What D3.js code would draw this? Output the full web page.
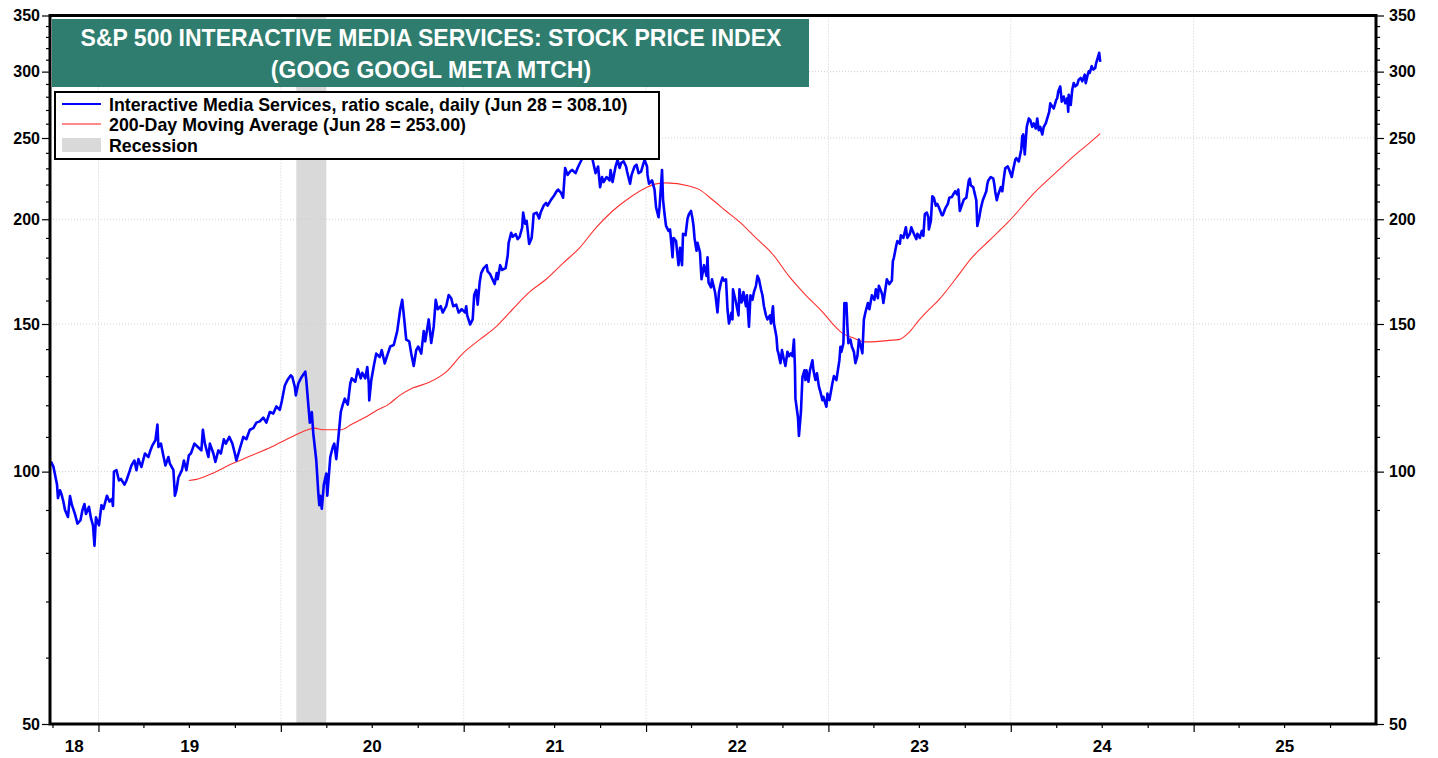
<!DOCTYPE html>
<html>
<head>
  <meta charset="utf-8">
  <title>S&amp;P 500 Interactive Media Services</title>
  <script src="https://d3js.org/d3.v7.min.js"></script>
  <style>
    body { margin: 0; background: #fff; }
    text { font-family: Arial, "Liberation Sans", sans-serif; font-weight: bold; }
  </style>
</head>
<body>
  <div id="chart"></div>
  <script>

    // Index (date, value)
    var priceData = [
      ["2018-09-28",102.8],["2018-10-03",101.3],["2018-10-10",96.5],["2018-10-12",93.0],["2018-10-16",95.0],
      ["2018-10-19",94.0],["2018-10-23",92.0],["2018-10-26",90.0],["2018-11-01",88.3],["2018-11-05",93.5],
      ["2018-11-09",91.2],["2018-11-15",89.0],["2018-11-20",86.7],["2018-11-26",87.5],["2018-11-30",90.0],
      ["2018-12-04",91.5],["2018-12-07",89.0],["2018-12-13",90.8],["2018-12-17",88.0],["2018-12-21",86.3],
      ["2018-12-24",81.6],["2018-12-27",88.2],["2019-01-02",86.3],["2019-01-07",91.2],["2019-01-11",90.3],
      ["2019-01-18",93.6],["2019-01-23",92.1],["2019-01-28",92.8],["2019-01-30",91.0],["2019-02-01",100.0],
      ["2019-02-06",100.4],["2019-02-11",97.6],["2019-02-15",98.0],["2019-02-22",96.5],["2019-02-26",97.6],
      ["2019-03-05",100.4],["2019-03-08",101.7],["2019-03-14",103.1],["2019-03-18",100.4],["2019-03-22",103.5],
      ["2019-03-28",101.3],["2019-04-04",105.1],["2019-04-11",104.1],["2019-04-15",106.0],["2019-04-19",107.5],
      ["2019-04-25",109.0],["2019-04-29",113.8],["2019-05-01",107.0],["2019-05-06",108.0],["2019-05-10",105.1],
      ["2019-05-15",101.7],["2019-05-21",104.1],["2019-05-24",102.2],["2019-05-31",100.4],["2019-06-03",93.6],
      ["2019-06-06",95.0],["2019-06-10",98.4],["2019-06-17",100.4],["2019-06-21",103.1],["2019-06-26",100.4],
      ["2019-07-01",104.6],["2019-07-05",105.1],["2019-07-12",108.0],["2019-07-19",107.0],["2019-07-26",106.0],
      ["2019-07-29",112.2],["2019-08-02",108.0],["2019-08-09",104.1],["2019-08-12",108.0],["2019-08-19",105.1],
      ["2019-08-23",102.7],["2019-08-29",106.0],["2019-09-03",105.1],["2019-09-09",109.3],["2019-09-13",108.0],
      ["2019-09-20",110.0],["2019-09-26",108.0],["2019-10-01",105.1],["2019-10-04",103.1],["2019-10-11",106.5],
      ["2019-10-18",110.0],["2019-10-24",109.3],["2019-10-31",112.2],["2019-11-07",112.7],["2019-11-13",114.4],
      ["2019-11-20",114.8],["2019-11-27",116.0],["2019-12-03",114.4],["2019-12-10",117.8],["2019-12-17",117.3],
      ["2019-12-23",119.6],["2019-12-30",118.5],["2020-01-03",121.4],["2020-01-09",126.7],["2020-01-14",128.5],
      ["2020-01-21",130.3],["2020-01-24",129.7],["2020-01-29",126.2],["2020-01-31",123.3],["2020-02-05",127.4],
      ["2020-02-10",129.2],["2020-02-14",130.3],["2020-02-19",131.6],["2020-02-21",128.5],["2020-02-25",120.2],
      ["2020-02-28",114.4],["2020-03-03",117.8],["2020-03-06",111.0],["2020-03-12",103.1],["2020-03-16",94.3],
      ["2020-03-18",91.2],["2020-03-20",93.6],["2020-03-23",90.3],["2020-03-27",96.5],["2020-04-01",99.5],
      ["2020-04-03",93.6],["2020-04-09",104.1],["2020-04-14",107.0],["2020-04-17",108.0],["2020-04-21",103.5],
      ["2020-04-27",112.7],["2020-04-30",117.8],["2020-05-04",120.2],["2020-05-08",122.2],["2020-05-14",120.2],
      ["2020-05-19",127.4],["2020-05-22",129.2],["2020-05-29",128.0],["2020-06-03",132.5],["2020-06-09",129.2],
      ["2020-06-12",131.2],["2020-06-18",129.2],["2020-06-22",133.3],["2020-06-25",127.4],["2020-06-26",121.6],
      ["2020-06-30",128.5],["2020-07-06",134.6],["2020-07-10",138.3],["2020-07-17",137.0],["2020-07-21",139.6],
      ["2020-07-27",134.6],["2020-07-31",137.0],["2020-08-07",141.0],["2020-08-14",141.6],["2020-08-21",147.1],
      ["2020-08-27",156.2],["2020-08-31",160.3],["2020-09-03",154.0],["2020-09-08",143.7],["2020-09-14",143.0],
      ["2020-09-18",138.3],["2020-09-23",133.7],["2020-09-28",139.6],["2020-10-02",141.0],["2020-10-08",138.3],
      ["2020-10-13",147.1],["2020-10-16",143.0],["2020-10-23",151.9],["2020-10-28",142.4],["2020-11-02",148.9],
      ["2020-11-06",160.3],["2020-11-10",156.2],["2020-11-16",157.5],["2020-11-20",154.8],["2020-11-27",157.5],
      ["2020-12-02",162.4],["2020-12-07",161.0],["2020-12-11",157.5],["2020-12-17",158.2],["2020-12-22",154.8],
      ["2020-12-28",156.2],["2021-01-04",154.8],["2021-01-06",157.5],["2021-01-08",153.6],["2021-01-14",149.8],
      ["2021-01-19",151.9],["2021-01-22",162.4],["2021-01-26",164.7],["2021-01-29",158.2],["2021-02-02",168.2],
      ["2021-02-05",172.5],["2021-02-10",174.9],["2021-02-16",176.3],["2021-02-18",173.3],["2021-02-23",172.0],
      ["2021-02-26",170.4],["2021-03-04",167.4],["2021-03-08",172.5],["2021-03-10",169.6],["2021-03-15",176.3],
      ["2021-03-19",174.0],["2021-03-26",174.9],["2021-03-30",180.9],["2021-04-01",187.5],["2021-04-06",192.7],
      ["2021-04-09",190.6],["2021-04-15",192.0],["2021-04-19",189.4],["2021-04-23",190.6],["2021-04-28",195.5],
      ["2021-04-30",203.7],["2021-05-04",197.6],["2021-05-07",199.1],["2021-05-12",186.9],["2021-05-17",190.0],
      ["2021-05-19",195.5],["2021-05-21",202.9],["2021-05-27",203.7],["2021-06-01",200.4],["2021-06-04",203.7],
      ["2021-06-10",207.6],["2021-06-15",209.2],["2021-06-18",207.6],["2021-06-25",211.1],["2021-06-30",213.0],
      ["2021-07-06",216.0],["2021-07-09",217.0],["2021-07-15",215.0],["2021-07-19",212.2],["2021-07-23",230.2],
      ["2021-07-28",225.9],["2021-08-02",228.0],["2021-08-06",229.0],["2021-08-13",227.0],["2021-08-17",230.2],
      ["2021-08-20",232.3],["2021-08-25",235.5],["2021-08-31",243.0],["2021-09-07",245.0],["2021-09-10",242.0],
      ["2021-09-16",235.5],["2021-09-22",227.0],["2021-09-27",231.2],["2021-10-01",218.4],["2021-10-05",224.6],
      ["2021-10-08",221.5],["2021-10-14",224.6],["2021-10-20",222.5],["2021-10-22",229.0],["2021-10-26",221.5],
      ["2021-11-01",231.2],["2021-11-05",235.5],["2021-11-09",230.2],["2021-11-12",233.4],["2021-11-17",234.5],
      ["2021-11-22",231.2],["2021-11-24",228.0],["2021-11-30",220.5],["2021-12-03",225.9],["2021-12-09",231.2],
      ["2021-12-13",232.3],["2021-12-17",227.0],["2021-12-22",228.0],["2021-12-27",233.4],["2021-12-29",235.5],
      ["2022-01-03",231.2],["2022-01-04",225.9],["2022-01-07",220.5],["2022-01-13",222.5],["2022-01-18",217.0],
      ["2022-01-21",206.7],["2022-01-26",201.1],["2022-01-28",206.7],["2022-02-02",229.0],["2022-02-04",211.1],
      ["2022-02-07",202.9],["2022-02-10",196.4],["2022-02-15",193.7],["2022-02-18",194.5],["2022-02-22",183.4],
      ["2022-02-23",180.2],["2022-02-25",190.0],["2022-03-02",188.4],["2022-03-07",176.3],["2022-03-10",184.9],
      ["2022-03-14",176.3],["2022-03-16",192.2],["2022-03-21",191.4],["2022-03-25",200.3],["2022-03-28",202.9],
      ["2022-04-01",204.6],["2022-04-04",200.3],["2022-04-06",196.4],["2022-04-08",190.0],["2022-04-12",183.4],
      ["2022-04-14",187.5],["2022-04-19",182.6],["2022-04-21",173.7],["2022-04-22",169.6],["2022-04-27",176.3],
      ["2022-05-02",171.2],["2022-05-04",180.2],["2022-05-06",168.2],["2022-05-11",165.9],["2022-05-13",169.6],
      ["2022-05-19",163.8],["2022-05-20",162.3],["2022-05-24",154.8],["2022-05-27",163.8],["2022-05-31",168.2],
      ["2022-06-03",170.4],["2022-06-06",169.0],["2022-06-10",169.6],["2022-06-13",156.2],["2022-06-16",150.2],
      ["2022-06-21",154.8],["2022-06-23",151.9],["2022-06-24",165.0],["2022-06-30",159.1],["2022-07-05",153.6],
      ["2022-07-07",165.0],["2022-07-11",159.1],["2022-07-13",160.3],["2022-07-15",163.8],["2022-07-20",157.5],
      ["2022-07-22",162.3],["2022-07-26",148.9],["2022-07-29",162.3],["2022-08-02",160.3],["2022-08-05",163.8],
      ["2022-08-09",166.6],["2022-08-12",171.2],["2022-08-15",169.6],["2022-08-19",165.0],["2022-08-22",162.3],
      ["2022-08-25",157.5],["2022-08-29",153.6],["2022-09-01",151.9],["2022-09-06",153.6],["2022-09-08",150.2],
      ["2022-09-12",157.5],["2022-09-14",150.2],["2022-09-19",144.8],["2022-09-21",139.6],["2022-09-23",138.4],
      ["2022-09-27",134.7],["2022-09-30",139.6],["2022-10-04",136.0],["2022-10-07",133.7],["2022-10-11",139.0],
      ["2022-10-14",137.3],["2022-10-18",138.4],["2022-10-21",137.3],["2022-10-24",143.7],["2022-10-26",133.0],
      ["2022-10-27",122.2],["2022-11-01",116.1],["2022-11-03",110.3],["2022-11-07",117.8],["2022-11-10",129.6],
      ["2022-11-14",132.1],["2022-11-16",128.6],["2022-11-18",132.1],["2022-11-22",128.0],["2022-11-25",132.1],
      ["2022-11-30",135.8],["2022-12-02",132.1],["2022-12-06",128.6],["2022-12-09",131.0],["2022-12-13",126.3],
      ["2022-12-16",124.5],["2022-12-20",121.7],["2022-12-22",122.8],["2022-12-28",119.5],["2022-12-30",123.9],
      ["2023-01-03",121.7],["2023-01-06",124.5],["2023-01-09",127.5],["2023-01-12",130.0],["2023-01-17",128.6],
      ["2023-01-19",131.0],["2023-01-23",135.8],["2023-01-25",140.9],["2023-01-27",139.0],["2023-01-31",142.3],
      ["2023-02-02",158.9],["2023-02-03",156.2],["2023-02-06",158.9],["2023-02-08",148.9],["2023-02-10",142.3],
      ["2023-02-14",143.7],["2023-02-17",140.9],["2023-02-21",139.0],["2023-02-24",134.7],["2023-02-28",137.3],
      ["2023-03-03",143.7],["2023-03-07",140.9],["2023-03-10",138.4],["2023-03-13",151.9],["2023-03-16",154.8],
      ["2023-03-21",158.9],["2023-03-24",156.2],["2023-03-29",162.3],["2023-04-03",160.3],["2023-04-06",165.0],
      ["2023-04-10",161.0],["2023-04-12",166.6],["2023-04-17",163.8],["2023-04-19",162.3],["2023-04-21",158.9],
      ["2023-04-25",165.0],["2023-04-28",169.6],["2023-05-03",167.4],["2023-05-08",169.0],["2023-05-10",178.3],
      ["2023-05-12",179.9],["2023-05-17",186.3],["2023-05-19",188.4],["2023-05-24",187.0],["2023-05-26",191.4],
      ["2023-05-31",190.0],["2023-06-05",195.6],["2023-06-08",190.0],["2023-06-13",192.2],["2023-06-16",195.6],
      ["2023-06-21",192.2],["2023-06-26",189.4],["2023-06-28",192.2],["2023-07-03",190.0],["2023-07-07",193.7],
      ["2023-07-10",191.1],["2023-07-13",202.9],["2023-07-17",203.7],["2023-07-20",201.1],["2023-07-21",194.5],
      ["2023-07-25",199.1],["2023-07-28",213.0],["2023-07-31",212.2],["2023-08-04",207.6],["2023-08-07",208.6],
      ["2023-08-10",206.7],["2023-08-16",202.3],["2023-08-18",202.3],["2023-08-23",206.1],["2023-08-28",208.6],
      ["2023-08-31",212.2],["2023-09-05",212.6],["2023-09-08",214.2],["2023-09-12",216.0],["2023-09-15",214.2],
      ["2023-09-18",217.0],["2023-09-21",204.6],["2023-09-26",208.6],["2023-09-29",211.1],["2023-10-04",212.2],
      ["2023-10-09",222.5],["2023-10-11",223.6],["2023-10-13",219.5],["2023-10-18",218.4],["2023-10-20",215.6],
      ["2023-10-24",210.7],["2023-10-26",196.4],["2023-10-30",201.1],["2023-11-02",206.1],["2023-11-06",210.7],
      ["2023-11-08",212.2],["2023-11-13",216.0],["2023-11-15",220.2],["2023-11-17",222.5],["2023-11-22",224.6],
      ["2023-11-27",223.6],["2023-11-29",220.2],["2023-12-01",215.6],["2023-12-04",210.7],["2023-12-07",214.2],
      ["2023-12-12",218.4],["2023-12-15",216.0],["2023-12-18",223.6],["2023-12-21",230.2],["2023-12-26",231.2],
      ["2023-12-29",229.0],["2024-01-03",224.6],["2024-01-05",228.0],["2024-01-10",235.5],["2024-01-12",236.6],
      ["2024-01-17",234.4],["2024-01-22",242.3],["2024-01-24",251.3],["2024-01-26",252.5],["2024-01-29",239.0],
      ["2024-01-31",248.5],["2024-02-02",257.8],["2024-02-06",263.8],["2024-02-09",262.6],["2024-02-13",257.8],
      ["2024-02-16",260.2],["2024-02-20",256.6],["2024-02-23",263.8],["2024-02-26",255.4],["2024-02-29",257.8],
      ["2024-03-04",252.5],["2024-03-07",257.8],["2024-03-11",260.2],["2024-03-14",263.8],["2024-03-18",268.7],
      ["2024-03-20",275.0],["2024-03-22",273.7],["2024-03-27",271.2],["2024-04-01",277.6],["2024-04-03",278.9],
      ["2024-04-05",284.1],["2024-04-09",288.1],["2024-04-12",276.3],["2024-04-16",280.2],["2024-04-19",275.0],
      ["2024-04-23",278.9],["2024-04-25",268.7],["2024-04-26",281.5],["2024-04-30",273.7],["2024-05-03",285.4],
      ["2024-05-06",290.7],["2024-05-09",288.1],["2024-05-13",289.4],["2024-05-16",293.4],["2024-05-20",294.8],
      ["2024-05-23",292.1],["2024-05-28",297.5],["2024-05-30",290.7],["2024-06-03",297.5],["2024-06-05",300.3],
      ["2024-06-07",298.9],["2024-06-11",304.5],["2024-06-14",301.7],["2024-06-18",303.1],["2024-06-20",307.4],
      ["2024-06-24",313.0],["2024-06-26",315.9],["2024-06-28",308.1]
    ];

    // 200-day moving average
    var maData = [
      ["2019-07-01",97.6],["2019-07-16",97.9],["2019-08-15",99.4],["2019-09-24",102.1],["2019-11-03",104.5],
      ["2019-12-13",107.0],["2020-01-22",110.0],["2020-02-24",112.2],["2020-03-09",112.7],["2020-03-25",112.2],
      ["2020-05-01",112.2],["2020-05-21",113.8],["2020-06-17",116.0],["2020-07-13",118.5],["2020-08-03",120.2],
      ["2020-08-26",123.3],["2020-09-21",125.8],["2020-10-23",127.7],["2020-11-27",131.5],["2020-12-30",138.3],
      ["2021-02-02",143.7],["2021-03-07",148.9],["2021-04-09",156.2],["2021-05-13",163.8],["2021-06-15",169.6],
      ["2021-07-18",177.1],["2021-08-21",184.9],["2021-09-23",195.5],["2021-10-26",204.6],["2021-11-29",212.2],
      ["2022-01-03",218.4],["2022-01-21",220.4],["2022-02-10",221.0],["2022-03-28",219.1],["2022-04-17",217.1],
      ["2022-05-14",211.0],["2022-06-10",204.6],["2022-07-07",198.6],["2022-08-09",190.0],["2022-09-11",181.8],
      ["2022-10-14",171.1],["2022-11-17",162.3],["2022-12-20",155.1],["2023-01-09",150.2],["2023-01-29",146.3],
      ["2023-02-18",144.5],["2023-03-16",142.8],["2023-04-12",143.0],["2023-05-02",143.4],["2023-05-22",143.7],
      ["2023-06-11",146.5],["2023-07-01",151.5],["2023-07-21",156.0],["2023-08-10",160.3],["2023-09-12",169.6],
      ["2023-10-16",180.2],["2023-11-18",188.4],["2023-12-28",198.8],["2024-02-19",215.6],["2024-03-30",227.0],
      ["2024-05-10",239.0],["2024-06-05",246.2],["2024-06-28",253.0]
    ];

    var recession = ["2020-02-01", "2020-04-01"];

    var yMajorTicks = [50, 100, 150, 200, 250, 300, 350];
    var yGridTicks = [100, 150, 200, 250, 300];
    var xYearLabels = ["18", "19", "20", "21", "22", "23", "24", "25"];

    var titleLines = ["S&P 500 INTERACTIVE MEDIA SERVICES: STOCK PRICE INDEX", "(GOOG GOOGL META MTCH)"];
    var legendLabels = [
      "Interactive Media Services, ratio scale, daily (Jun 28 = 308.10)",
      "200-Day Moving Average (Jun 28 = 253.00)",
      "Recession"
    ];

    var parseTime = d3.timeParse('%Y-%m-%d');

    var price = priceData.map(function (d) { return { date: parseTime(d[0]), value: d[1] }; });
    var ma = maData.map(function (d) { return { date: parseTime(d[0]), value: d[1] }; });

    // plot area in page pixels
    var pLeft = 50, pRight = 1376, pTop = 15.5, pBottom = 724;

    var xStart = parseTime('2018-09-26');
    var xEnd = parseTime('2026-01-01');

    var xScale = d3.scaleTime().domain([xStart, xEnd]).range([pLeft, pRight]);
    var yScale = d3.scaleLog().domain([50, 350]).range([pBottom, pTop]);

    var svg = d3.select('#chart')
      .append('svg')
        .attr('width', 1438)
        .attr('height', 758);

    // year boundaries and quarters
    var yearStarts = d3.timeYear.range(parseTime('2019-01-01'), xEnd);
    var quarters = d3.timeMonth.every(3).range(xStart, xEnd)
      .filter(function (d) { return d.getMonth() !== 0; });

    // recession shading
    svg.append('rect')
      .attr('x', xScale(parseTime(recession[0])))
      .attr('y', pTop)
      .attr('width', xScale(parseTime(recession[1])) - xScale(parseTime(recession[0])))
      .attr('height', pBottom - pTop)
      .attr('fill', '#d9d9d9');

    // dotted grid
    var grid = svg.append('g')
      .attr('stroke', '#cfcfcf')
      .attr('stroke-width', 1)
      .attr('stroke-dasharray', '1,2');

    grid.selectAll('.vgrid')
      .data(yearStarts)
      .enter().append('line')
        .attr('x1', function (d) { return xScale(d); })
        .attr('x2', function (d) { return xScale(d); })
        .attr('y1', pTop)
        .attr('y2', pBottom);

    grid.selectAll('.hgrid')
      .data(yGridTicks)
      .enter().append('line')
        .attr('x1', pLeft)
        .attr('x2', pRight)
        .attr('y1', function (d) { return yScale(d); })
        .attr('y2', function (d) { return yScale(d); });

    var line = d3.line()
      .x(function (d) { return xScale(d.date); })
      .y(function (d) { return yScale(d.value); });

    // moving average
    svg.append('path')
      .datum(ma)
      .attr('fill', 'none')
      .attr('stroke', '#ff3030')
      .attr('stroke-width', 1.1)
      .attr('d', line.curve(d3.curveMonotoneX));

    // index
    svg.append('path')
      .datum(price)
      .attr('fill', 'none')
      .attr('stroke', '#0000ff')
      .attr('stroke-width', 2.6)
      .attr('stroke-linejoin', 'round')
      .attr('d', line.curve(d3.curveLinear));

    // y axes (left and right), major + minor ticks
    var yMinorTicks = d3.range(60, 350, 10).filter(function (v) { return v % 50 !== 0; });

    function styleAxis(g) {
      g.select('.domain').remove();
      g.selectAll('line').attr('stroke', '#000').attr('stroke-width', 1.2);
      g.selectAll('text').attr('fill', '#000').style('font-size', '16px');
    }

    svg.append('g')
      .attr('transform', 'translate(' + pLeft + ',0)')
      .call(d3.axisLeft(yScale).tickValues(yMajorTicks).tickSize(8).tickPadding(2).tickFormat(d3.format('d')))
      .call(styleAxis);
    svg.append('g')
      .attr('transform', 'translate(' + pLeft + ',0)')
      .call(d3.axisLeft(yScale).tickValues(yMinorTicks).tickSize(4).tickFormat(''))
      .call(styleAxis);

    svg.append('g')
      .attr('transform', 'translate(' + pRight + ',0)')
      .call(d3.axisRight(yScale).tickValues(yMajorTicks).tickSize(8).tickPadding(5).tickFormat(d3.format('d')))
      .call(styleAxis);
    svg.append('g')
      .attr('transform', 'translate(' + pRight + ',0)')
      .call(d3.axisRight(yScale).tickValues(yMinorTicks).tickSize(4).tickFormat(''))
      .call(styleAxis);

    // x axis: long ticks at year starts, short ticks at quarters
    svg.append('g')
      .attr('transform', 'translate(0,' + pBottom + ')')
      .call(d3.axisBottom(xScale).tickValues(yearStarts).tickSize(8).tickFormat(''))
      .call(styleAxis);
    svg.append('g')
      .attr('transform', 'translate(0,' + pBottom + ')')
      .call(d3.axisBottom(xScale).tickValues(quarters).tickSize(4).tickFormat(''))
      .call(styleAxis);

    // year labels centred in the visible part of each year
    svg.append('g')
      .selectAll('text')
      .data(xYearLabels)
      .enter().append('text')
        .attr('x', function (d) {
          var y0 = new Date(2000 + (+d), 0, 1), y1 = new Date(2001 + (+d), 0, 1);
          var a = xScale(y0 < xStart ? xStart : y0), b = xScale(y1 > xEnd ? xEnd : y1);
          return (a + b) / 2;
        })
        .attr('y', 752)
        .attr('text-anchor', 'middle')
        .style('font-size', '17px')
        .text(function (d) { return d; });

    // frame
    svg.append('rect')
      .attr('x', pLeft)
      .attr('y', pTop)
      .attr('width', pRight - pLeft)
      .attr('height', pBottom - pTop)
      .attr('fill', 'none')
      .attr('stroke', '#000')
      .attr('stroke-width', 3);

    // title box
    svg.append('rect')
      .attr('x', 52).attr('y', 19)
      .attr('width', 757).attr('height', 68)
      .attr('fill', '#2e7d6e');
    svg.append('g')
      .selectAll('text')
      .data(titleLines)
      .enter().append('text')
        .attr('x', 431)
        .attr('y', function (d, i) { return 45.5 + i * 32.5; })
        .attr('text-anchor', 'middle')
        .attr('fill', '#fff')
        .style('font-size', '23px')
        .text(function (d) { return d; });

    // legend
    var legend = svg.append('g');
    legend.append('rect')
      .attr('x', 55).attr('y', 92)
      .attr('width', 604).attr('height', 67)
      .attr('fill', '#fff')
      .attr('stroke', '#000')
      .attr('stroke-width', 2);

    legend.append('line')
      .attr('x1', 62).attr('x2', 101).attr('y1', 104).attr('y2', 104)
      .attr('stroke', '#0000ff').attr('stroke-width', 2);
    legend.append('line')
      .attr('x1', 62).attr('x2', 101).attr('y1', 124).attr('y2', 124)
      .attr('stroke', '#ff6060').attr('stroke-width', 1.5);
    legend.append('rect')
      .attr('x', 62).attr('y', 138).attr('width', 39).attr('height', 14)
      .attr('fill', '#d9d9d9');

    legend.selectAll('.label')
      .data(legendLabels)
      .enter().append('text')
        .attr('x', 109)
        .attr('y', function (d, i) { return 110.5 + i * 20.6; })
        .style('font-size', '17.8px')
        .text(function (d) { return d; });

  </script>
</body>
</html>
